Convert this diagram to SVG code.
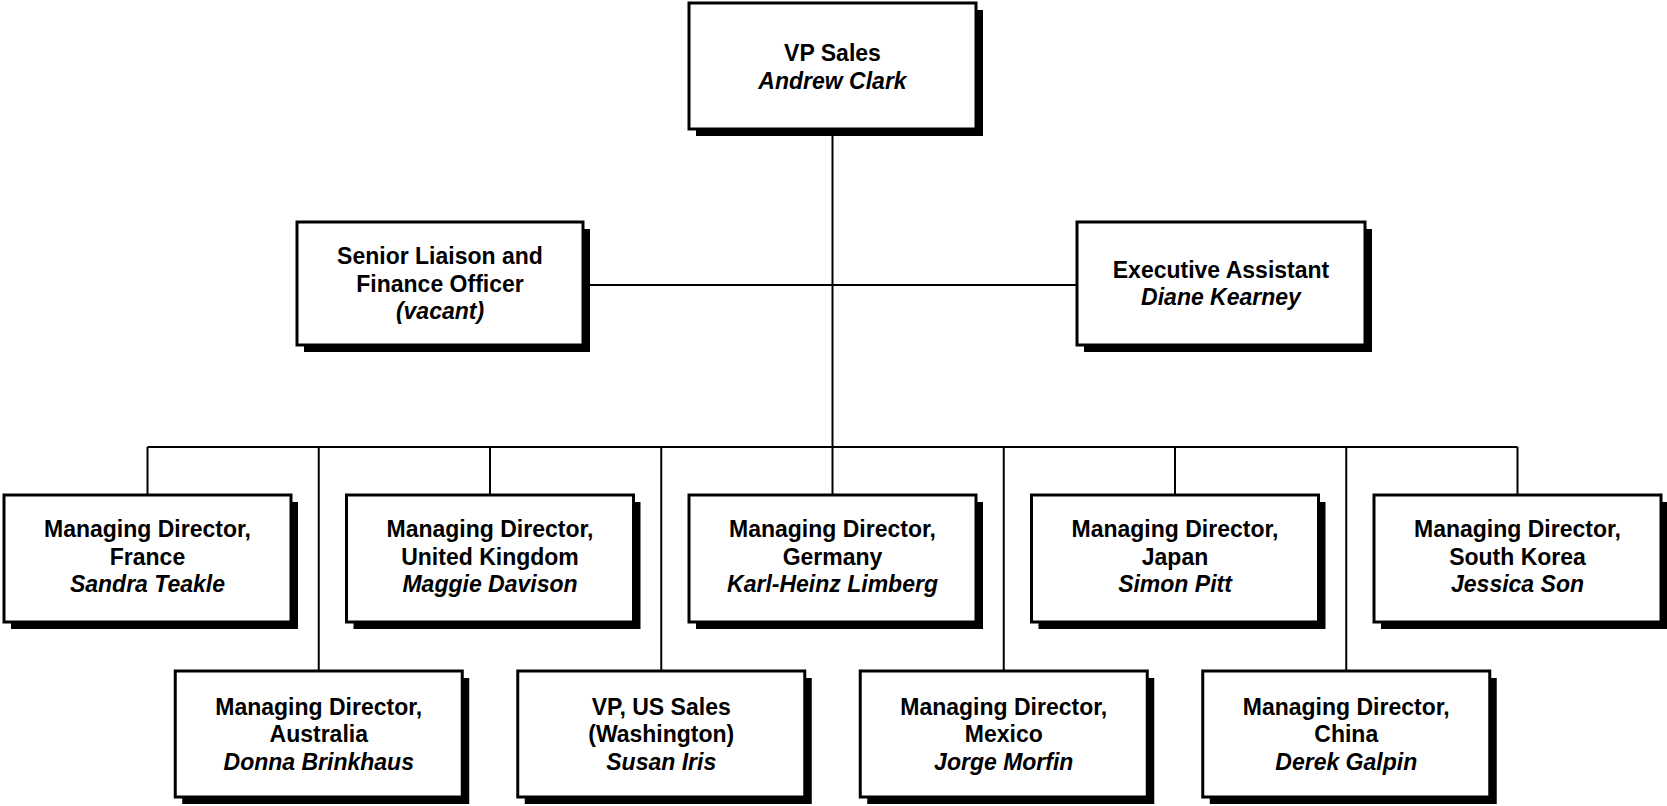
<svg xmlns="http://www.w3.org/2000/svg" width="1667" height="806" viewBox="0 0 1667 806">
<defs>
<style>
.shadow{fill:#000}
.box{fill:#fff;stroke:#000;stroke-width:3}
.t{font-family:"Liberation Sans",Arial,sans-serif;font-size:23px;text-anchor:middle;fill:#000;font-weight:bold}
.n{font-style:italic}
.c{fill:none;stroke:#000;stroke-width:2}
</style>
</defs>
<rect width="1667" height="806" fill="#fff"/>
<g id="connectors">
<path class="c" d="M832.5 129V447M583 285H1077M147.5 447H1517.5M147.5 447V495M490 447V495M832.5 447V495M1175 447V495M1517.5 447V495M318.75 447V671M661.25 447V671M1003.75 447V671M1346.25 447V671"/>
</g>
<g id="vp-sales">
<rect class="shadow" x="696" y="10" width="287" height="126"/>
<rect class="box" x="689" y="3" width="287" height="126"/>
<text class="t" x="832.5" y="61">VP Sales</text>
<text class="t n" x="832.5" y="88.5">Andrew Clark</text>
</g>
<g id="senior-liaison">
<rect class="shadow" x="304" y="229" width="286" height="123"/>
<rect class="box" x="297" y="222" width="286" height="123"/>
<text class="t" x="440" y="264">Senior Liaison and</text>
<text class="t" x="440" y="291.5">Finance Officer</text>
<text class="t n" x="440" y="319">(vacant)</text>
</g>
<g id="executive-assistant">
<rect class="shadow" x="1084" y="229" width="288" height="123"/>
<rect class="box" x="1077" y="222" width="288" height="123"/>
<text class="t" x="1221" y="277.5">Executive Assistant</text>
<text class="t n" x="1221" y="305">Diane Kearney</text>
</g>
<g id="md-france">
<rect class="shadow" x="11" y="502" width="287" height="127"/>
<rect class="box" x="4" y="495" width="287" height="127"/>
<text class="t" x="147.5" y="537">Managing Director,</text>
<text class="t" x="147.5" y="564.5">France</text>
<text class="t n" x="147.5" y="592">Sandra Teakle</text>
</g>
<g id="md-uk">
<rect class="shadow" x="353.5" y="502" width="287" height="127"/>
<rect class="box" x="346.5" y="495" width="287" height="127"/>
<text class="t" x="490" y="537">Managing Director,</text>
<text class="t" x="490" y="564.5">United Kingdom</text>
<text class="t n" x="490" y="592">Maggie Davison</text>
</g>
<g id="md-germany">
<rect class="shadow" x="696" y="502" width="287" height="127"/>
<rect class="box" x="689" y="495" width="287" height="127"/>
<text class="t" x="832.5" y="537">Managing Director,</text>
<text class="t" x="832.5" y="564.5">Germany</text>
<text class="t n" x="832.5" y="592">Karl-Heinz Limberg</text>
</g>
<g id="md-japan">
<rect class="shadow" x="1038.5" y="502" width="287" height="127"/>
<rect class="box" x="1031.5" y="495" width="287" height="127"/>
<text class="t" x="1175" y="537">Managing Director,</text>
<text class="t" x="1175" y="564.5">Japan</text>
<text class="t n" x="1175" y="592">Simon Pitt</text>
</g>
<g id="md-south-korea">
<rect class="shadow" x="1381" y="502" width="287" height="127"/>
<rect class="box" x="1374" y="495" width="287" height="127"/>
<text class="t" x="1517.5" y="537">Managing Director,</text>
<text class="t" x="1517.5" y="564.5">South Korea</text>
<text class="t n" x="1517.5" y="592">Jessica Son</text>
</g>
<g id="md-australia">
<rect class="shadow" x="182.25" y="678" width="287" height="126"/>
<rect class="box" x="175.25" y="671" width="287" height="126"/>
<text class="t" x="318.75" y="714.5">Managing Director,</text>
<text class="t" x="318.75" y="742">Australia</text>
<text class="t n" x="318.75" y="769.5">Donna Brinkhaus</text>
</g>
<g id="vp-us-sales">
<rect class="shadow" x="524.75" y="678" width="287" height="126"/>
<rect class="box" x="517.75" y="671" width="287" height="126"/>
<text class="t" x="661.25" y="714.5">VP, US Sales</text>
<text class="t" x="661.25" y="742">(Washington)</text>
<text class="t n" x="661.25" y="769.5">Susan Iris</text>
</g>
<g id="md-mexico">
<rect class="shadow" x="867.25" y="678" width="287" height="126"/>
<rect class="box" x="860.25" y="671" width="287" height="126"/>
<text class="t" x="1003.75" y="714.5">Managing Director,</text>
<text class="t" x="1003.75" y="742">Mexico</text>
<text class="t n" x="1003.75" y="769.5">Jorge Morfin</text>
</g>
<g id="md-china">
<rect class="shadow" x="1209.75" y="678" width="287" height="126"/>
<rect class="box" x="1202.75" y="671" width="287" height="126"/>
<text class="t" x="1346.25" y="714.5">Managing Director,</text>
<text class="t" x="1346.25" y="742">China</text>
<text class="t n" x="1346.25" y="769.5">Derek Galpin</text>
</g>
</svg>
